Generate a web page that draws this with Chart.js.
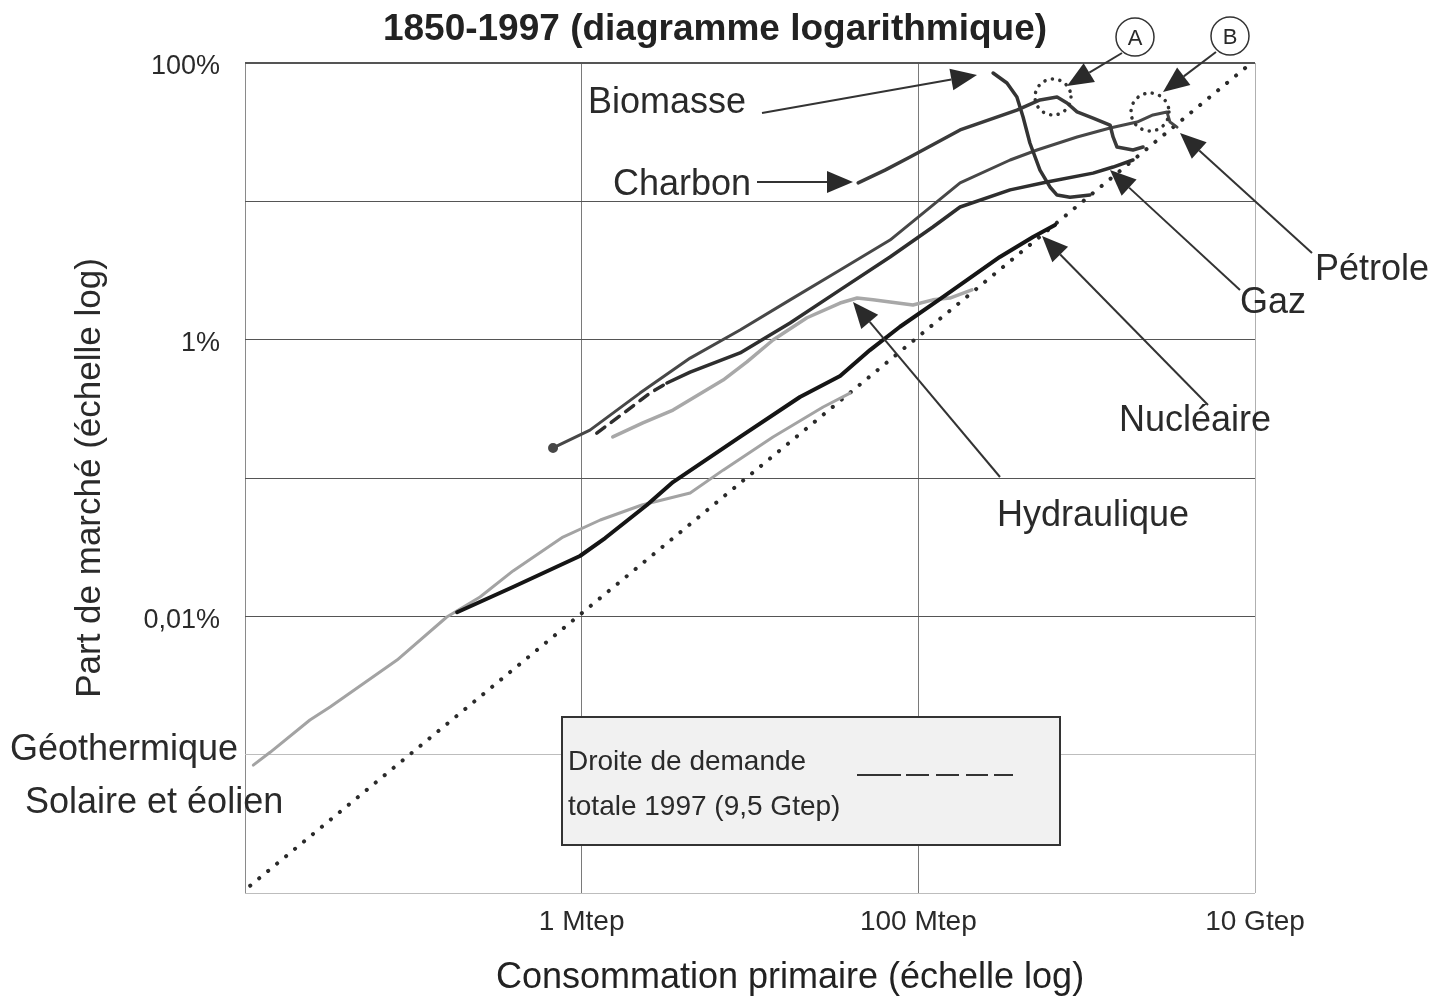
<!DOCTYPE html>
<html lang="fr">
<head>
<meta charset="utf-8">
<title>Parts de marché 1850-1997</title>
<script src="https://cdn.jsdelivr.net/npm/chart.js@4.4.1/dist/chart.umd.min.js"></script>
<style>
  html, body { margin: 0; padding: 0; background: #fff; }
  canvas { display: block; }
</style>
</head>
<body>
<canvas id="chart" width="1431" height="996"></canvas>
<script>
// x = consommation primaire (Mtep), y = part de marché (%)
const biomasseX = [278, 336, 385, 419, 460, 528, 605, 667, 796, 1047];
const biomasseY = [84.7, 71.7, 56.8, 40.7, 26.4, 16.8, 12.7, 11.1, 10.7, 11.1];

const charbonX = [43.9, 63.4, 89.3, 177, 385, 528, 667, 764, 877, 1091, 1377, 1435, 1514, 1884, 2163];
const charbonY = [13.6, 16.8, 20.9, 32.8, 45.7, 54.1, 56.8, 51.4, 44.3, 40.0, 35.6, 29.2, 24.7, 23.5, 24.7];

const petroleX = [0.676, 1.12, 2.22, 4.41, 8.73, 17.3, 34.3, 67.9, 122, 177, 351, 507, 877, 1377, 1991, 2477, 3000, 3126, 3443];
const petroleY = [0.165, 0.222, 0.411, 0.736, 1.175, 1.94, 3.19, 5.25, 9.40, 13.6, 19.9, 23.5, 29.2, 33.9, 37.4, 42.1, 44.3, 37.4, 34.4];

// first points of the gas series are estimates (dashed)
const gazX = [1.23, 1.81, 2.55, 3.21, 4.41, 8.73, 17.3, 34.3, 67.9, 122, 177, 351, 581, 1091, 1435, 1884];
const gazY = [0.211, 0.300, 0.411, 0.486, 0.583, 0.802, 1.32, 2.29, 3.96, 6.52, 9.10, 12.1, 13.8, 16.0, 17.7, 19.9];
const gazEstimes = 3;

const hydrauliqueX = [1.53, 2.31, 3.49, 6.92, 9.59, 13.7, 21.8, 34.3, 43.3, 53.8, 67.9, 92.9, 122, 154, 208];
const hydrauliqueY = [0.198, 0.250, 0.310, 0.510, 0.690, 0.995, 1.44, 1.84, 2.00, 1.94, 1.87, 1.78, 1.94, 2.00, 2.29];

const nucleaireX = [0.182, 0.391, 0.977, 1.38, 2.44, 3.49, 8.73, 19.8, 34.3, 51.6, 77.8, 135, 305, 480, 649];
const nucleaireY = [0.0107, 0.0163, 0.0273, 0.0368, 0.0638, 0.0935, 0.198, 0.385, 0.546, 0.841, 1.24, 1.97, 3.96, 5.52, 6.75];

const geothermieX = [0.0112, 0.0141, 0.0243, 0.0320, 0.0800, 0.158, 0.249, 0.391, 0.774, 1.29, 2.28, 4.41, 6.92, 13.7, 27.2, 39.3];
const geothermieY = [0.00084, 0.00104, 0.00178, 0.00221, 0.00483, 0.00989, 0.0138, 0.0213, 0.0374, 0.0497, 0.0638, 0.0778, 0.114, 0.198, 0.326, 0.411];

// droite de demande totale 1997 : consommation = part x 9,5 Gtep
const demandeTotale = 9500;
const demandeParts = [0.0001, 100];

// axes
const xGrid = [0.01, 1, 100, 10000];
const xTickValues = [1, 100, 10000];
const xTickLabels = ['1 Mtep', '100 Mtep', '10 Gtep'];
const yGrid = [0.0001, 0.001, 0.01, 0.1, 1, 10, 100];
const yTickValues = [100, 1, 0.01];
const yTickLabels = ['100%', '1%', '0,01%'];

const FONT = '"Liberation Sans", Arial, Helvetica, sans-serif';
Chart.defaults.font.family = FONT;
Chart.defaults.color = '#2a2a2a';

const pts = (xs, ys) => xs.map((x, i) => ({ x, y: ys[i] }));
const same = (a, b) => Math.abs(Math.log10(a) - Math.log10(b)) < 1e-6;
const labelFor = (vals, labels) => v => {
  const i = vals.findIndex(t => same(t, v));
  return i < 0 ? '' : labels[i];
};

function line(data, color, width, extra) {
  return Object.assign({
    data, borderColor: color, backgroundColor: color, borderWidth: width,
    pointRadius: 0, tension: 0, fill: false, borderJoinStyle: 'round', borderCapStyle: 'round'
  }, extra || {});
}

// Overlay: title, labels, arrows, circles, legend box
function arrow(c, x1, y1, x2, y2) {
  const a = Math.atan2(y2 - y1, x2 - x1), L = 26, W = 11;
  const bx = x2 - L * Math.cos(a), by = y2 - L * Math.sin(a);
  c.beginPath(); c.moveTo(x1, y1); c.lineTo(bx, by); c.stroke();
  c.beginPath(); c.moveTo(x2, y2);
  c.lineTo(bx + W * Math.sin(a), by - W * Math.cos(a));
  c.lineTo(bx - W * Math.sin(a), by + W * Math.cos(a));
  c.closePath(); c.fill();
}

const overlay = {
  id: 'overlay',
  afterDraw(chart) {
    const c = chart.ctx;
    c.save();
    c.fillStyle = '#222';
    c.strokeStyle = '#333';
    c.textBaseline = 'alphabetic';

    c.textAlign = 'center';
    c.font = 'bold 37px ' + FONT;
    c.fillText('1850-1997 (diagramme logarithmique)', 715, 40);
    c.font = '36px ' + FONT;
    c.fillText('Consommation primaire (échelle log)', 790, 988);

    c.textAlign = 'left';
    c.fillStyle = '#2a2a2a';
    [['Biomasse', 588, 113], ['Charbon', 613, 195], ['Pétrole', 1315, 280], ['Gaz', 1240, 313],
     ['Nucléaire', 1119, 431], ['Hydraulique', 997, 526], ['Géothermique', 10, 760],
     ['Solaire et éolien', 25, 813]].forEach(([t, x, y]) => c.fillText(t, x, y));

    c.lineWidth = 2;
    c.fillStyle = '#2a2a2a';
    [[762, 113, 977, 75], [757, 182, 853, 182], [1312, 253, 1180, 133], [1240, 290, 1110, 170],
     [1208, 405, 1042, 236], [1000, 477, 853, 302], [1122, 53, 1067, 86], [1216, 52, 1163, 92]]
      .forEach(a => arrow(c, ...a));

    // circled letters
    c.lineWidth = 1.5;
    c.font = '22px ' + FONT;
    c.textAlign = 'center';
    [['A', 1135, 37], ['B', 1230, 36]].forEach(([t, x, y]) => {
      c.beginPath(); c.arc(x, y, 19, 0, Math.PI * 2);
      c.fillStyle = '#fff'; c.fill(); c.stroke();
      c.fillStyle = '#2a2a2a'; c.fillText(t, x, y + 8);
    });

    // dotted circles
    c.lineWidth = 3.5; c.lineCap = 'round'; c.setLineDash([0.1, 7.5]);
    [[1053, 97, 18], [1150, 112, 19]].forEach(([x, y, r]) => {
      c.beginPath(); c.arc(x, y, r, 0, Math.PI * 2); c.stroke();
    });
    c.setLineDash([]); c.lineCap = 'butt';

    // legend box
    c.fillStyle = '#f1f1f1';
    c.fillRect(562, 717, 498, 128);
    c.lineWidth = 2; c.strokeStyle = '#333';
    c.strokeRect(562, 717, 498, 128);
    c.fillStyle = '#2a2a2a';
    c.textAlign = 'left';
    c.font = '28px ' + FONT;
    c.fillText('Droite de demande', 568, 770);
    c.fillText('totale 1997 (9,5 Gtep)', 568, 815);
    c.setLineDash([44, 5, 23, 7, 23, 7, 22, 6, 22]);
    c.beginPath(); c.moveTo(857, 775); c.lineTo(1013, 775); c.stroke();
    c.restore();
  }
};

new Chart(document.getElementById('chart'), {
  type: 'line',
  data: {
    datasets: [
      line(pts(nucleaireX, nucleaireY), '#151515', 4),
      line(pts(gazX, gazY), '#2e2e2e', 3.5, {
        segment: { borderDash: s => s.p1DataIndex <= gazEstimes ? [10, 8] : undefined }
      }),
      line(pts(charbonX, charbonY), '#3a3a3a', 3.5),
      line(pts(biomasseX, biomasseY), '#333', 3.5),
      line(pts(petroleX, petroleY), '#474747', 3, {
        pointRadius: ctx => ctx.dataIndex === 0 ? 3.5 : 0
      }),
      line(pts(hydrauliqueX, hydrauliqueY), '#a8a8a8', 3.5),
      line(pts(geothermieX, geothermieY), '#a3a3a3', 3),
      line(pts(demandeParts.map(p => p / 100 * demandeTotale), demandeParts), '#2a2a2a', 4, {
        borderDash: [0.1, 11.5]
      })
    ]
  },
  options: {
    responsive: false,
    animation: false,
    devicePixelRatio: 1,
    layout: { padding: { top: 63, right: 176, left: 0, bottom: 0 } },
    plugins: { legend: { display: false }, tooltip: { enabled: false } },
    scales: {
      x: {
        type: 'logarithmic', min: 0.01, max: 10000,
        afterBuildTicks: s => { s.ticks = xGrid.map(v => ({ value: v })); },
        afterFit: s => { s.height = 103; },
        ticks: { autoSkip: false, maxRotation: 0, padding: 12, font: { size: 28 }, color: '#2a2a2a',
                 callback: labelFor(xTickValues, xTickLabels) },
        grid: { drawTicks: false, lineWidth: 1,
                color: c => same(c.tick.value, 0.01) ? '#8a8a8a' : same(c.tick.value, 10000) ? '#b0b0b0' : '#7a7a7a' },
        border: { display: false }
      },
      y: {
        type: 'logarithmic', min: 0.0001, max: 100,
        afterBuildTicks: s => { s.ticks = yGrid.map(v => ({ value: v })); },
        afterFit: s => { s.width = 245; },
        ticks: { autoSkip: false, padding: 25, labelOffset: 4, font: { size: 27 }, color: '#2a2a2a',
                 callback: labelFor(yTickValues, yTickLabels) },
        grid: { drawTicks: false,
                lineWidth: c => same(c.tick.value, 100) ? 2 : 1,
                color: c => c.tick.value < 0.005 ? '#bdbdbd' : '#555' },
        border: { display: false },
        title: { display: true, text: 'Part de marché (échelle log)', font: { size: 35 },
                 color: '#2a2a2a', padding: { top: 69, bottom: 0 } }
      }
    }
  },
  plugins: [overlay]
});
</script>
</body>
</html>
